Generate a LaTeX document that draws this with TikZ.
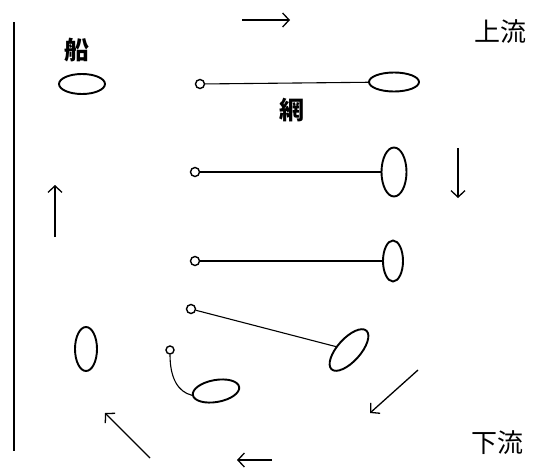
\documentclass[tikz,border=0pt]{standalone}
\usepackage{fontspec}
\newfontfamily\jpfont{Noto Sans CJK JP}
\usetikzlibrary{shapes,arrows.meta}

\begin{document}
\begin{tikzpicture}[x=1pt,y=-1pt,
    boat/.style={draw,ellipse,line width=1.9pt,inner sep=0pt},
    buoy/.style={draw,circle,line width=1.4pt,inner sep=0pt,minimum size=9pt},
    net/.style={draw,line width=1.1pt},
    flow/.style={-{Straight Barb[length=6.5pt,width=14pt]},line width=1.3pt,draw},
    word/.style={font=\jpfont\fontsize{26}{26}\selectfont,inner sep=0pt},
    tag/.style={word,font=\jpfont\bfseries\fontsize{25}{25}\selectfont}]
    \useasboundingbox (0,0) rectangle (540,471);

    \draw[line width=1.7pt] (14,22) -- (14,451);
    \node[tag] (ship) at (77,50) {船};
    \node[tag] (ami) at (292,110) {網};
    \node[word] (up) at (500,32) {上流};
    \node[word] (down) at (497,443) {下流};

    \node[boat,minimum width=46,minimum height=20] (b0) at (82,84) {};
    \node[buoy] (f1) at (200,84) {};
    \node[boat,minimum width=50,minimum height=19] (b1) at (394,82) {};
    \node[buoy] (f2) at (195,172) {};
    \node[boat,minimum width=25,minimum height=49] (b2) at (394,172) {};
    \node[buoy] (f3) at (195,261) {};
    \node[boat,minimum width=20,minimum height=41] (b3) at (393,261) {};
    \node[buoy] (f4) at (191,309) {};
    \node[boat,minimum width=52,minimum height=23,rotate=48] (b4) at (349,350) {};
    \node[boat,minimum width=22,minimum height=44] (b5) at (86,349) {};
    \node[buoy,minimum size=8pt] (f5) at (170,350) {};
    \node[boat,minimum width=47,minimum height=22,rotate=10] (b6) at (216,391) {};

    \path[net] (f1) -- (b1);
    \path[net] (f2) -- (b2);
    \path[net] (f3) -- (b3);
    \path[net] (f4) -- (b4);
    \path[net] (f5.south) .. controls (170,378) and (178,392) .. (b6.west);

    \coordinate (a1) at (242,20);
    \coordinate (a2) at (290,20);
    \coordinate (a3) at (458,148);
    \coordinate (a4) at (458,198);
    \coordinate (a5) at (418,370);
    \coordinate (a6) at (370,413);
    \coordinate (a7) at (272,460);
    \coordinate (a8) at (237,460);
    \coordinate (a9) at (150,458);
    \coordinate (a10) at (105,413);
    \coordinate (a11) at (55,237);
    \coordinate (a12) at (55,185);

    \path[flow] (a1) -- (a2);
    \path[flow] (a3) -- (a4);
    \path[flow] (a5) -- (a6);
    \path[flow] (a7) -- (a8);
    \path[flow] (a9) -- (a10);
    \path[flow] (a11) -- (a12);
\end{tikzpicture}
\end{document}
